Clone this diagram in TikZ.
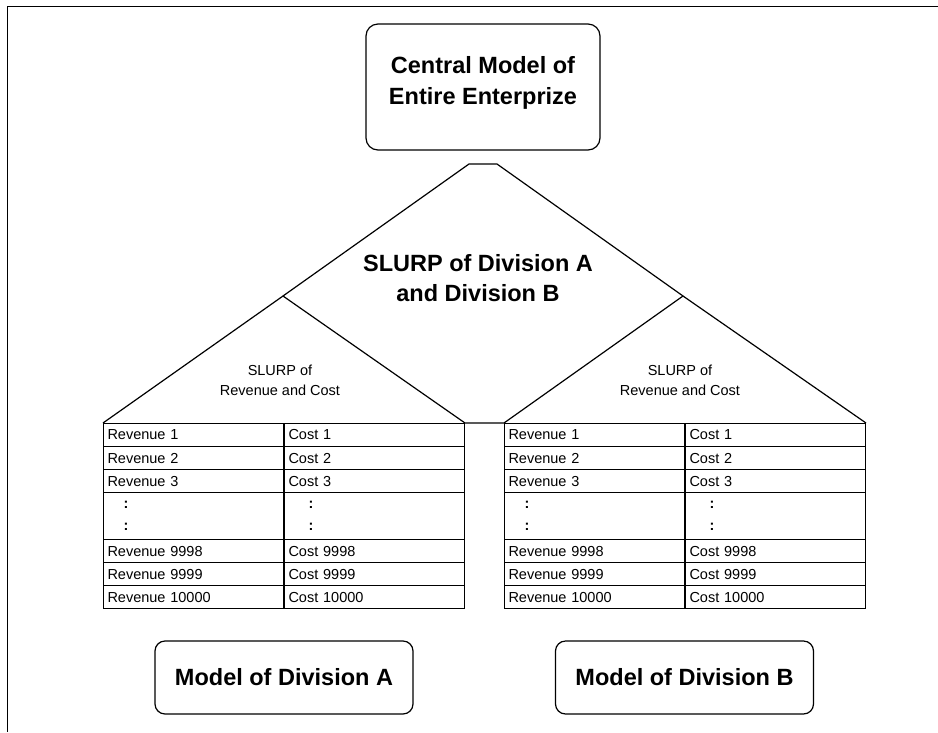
\documentclass[tikz,border=0pt]{standalone}
\usepackage{fontspec}
\setmainfont{Liberation Sans}
\usetikzlibrary{positioning}

\begin{document}
\begin{tikzpicture}[x=1pt, y=-1pt, line width=1.2pt,
  model/.style={rectangle, draw, rounded corners=12pt, align=center,
                font=\fontsize{23.5}{31}\selectfont\bfseries},
  cell/.style={rectangle, draw, line width=1pt, anchor=north west, text width=172pt, inner sep=4pt,
               minimum height=23pt, align=left, font=\fontsize{14.5}{22}\selectfont},
  slurp/.style={align=center, font=\fontsize{14.5}{20}\selectfont},
  big/.style={align=center, font=\fontsize{23.5}{30}\selectfont\bfseries}
]
\useasboundingbox (0,0) rectangle (938,732);
% Frame
\draw[line width=1pt] (938,6) -- (7,6) -- (7,732);

% Top — central model
\node[model, minimum width=234pt, minimum height=126pt] at (483,87) (central) {};
\node[big, font=\fontsize{23.5}{31}\selectfont\bfseries] at ([yshift=4.5pt]central.center) (centraltxt)
  {Central Model of\\Entire Enterprize};

% Tables of Division A and B
\foreach \tab/\dx in {A/103, B/504} {
  \foreach \r/\y/\rev/\cost in {1/423/Revenue 1/Cost 1, 2/446/Revenue 2/Cost 2,
                                3/469/Revenue 3/Cost 3, 5/539/Revenue 9998/Cost 9998,
                                6/562/Revenue 9999/Cost 9999, 7/585/Revenue 10000/Cost 10000} {
    \node[cell] at (\dx,\y) (\tab-\r-rev) {\rev};
    \node[cell] at (\tab-\r-rev.north east) (\tab-\r-cost) {\cost};
  }
  \node[cell, minimum height=47pt] at (\dx,492) (\tab-4-rev) {\hspace*{16pt}\textbf{:}\\\hspace*{16pt}\textbf{:}};
  \node[cell, minimum height=47pt] at (\tab-4-rev.north east) (\tab-4-cost) {\hspace*{20pt}\textbf{:}\\\hspace*{20pt}\textbf{:}};
}

% Triangles
\coordinate (apexL) at (469,164);
\coordinate (apexR) at (497,164);
\coordinate (peakA) at (283,296);
\coordinate (peakB) at (683,296);
\draw (peakA) -- (apexL) -- (apexR) -- (peakB);
\draw (A-1-rev.north west) -- (peakA) -- (A-1-cost.north east)
      -- (B-1-rev.north west) -- (peakB) -- (B-1-cost.north east);

% Labels
\node[big] at (478,278) (slurpAB) {SLURP of Division A\\and Division B};
\node[slurp] at (280,380) (slurpA) {SLURP of\\Revenue and Cost};
\node[slurp] at (680,380) (slurpB) {SLURP of\\Revenue and Cost};

% Bottom — division models
\node[model, minimum width=258pt, minimum height=73pt, rounded corners=10pt] at (284,677.5) (divA) {Model of Division A};
\node[model, minimum width=258pt, minimum height=73pt, rounded corners=10pt] at (684.5,677.5) (divB) {Model of Division B};
\end{tikzpicture}
\end{document}
